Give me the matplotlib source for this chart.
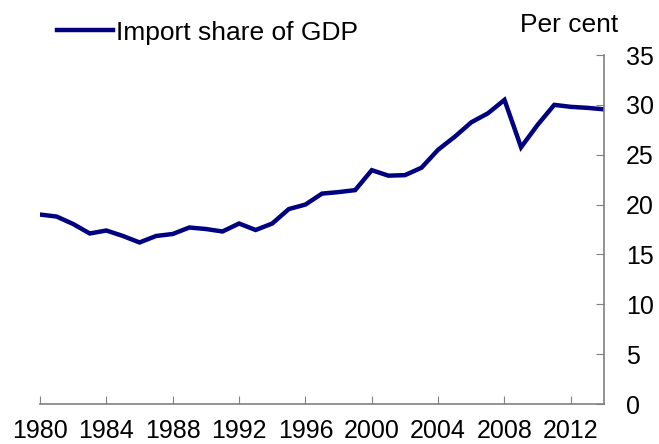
import matplotlib.pyplot as plt
from matplotlib.ticker import MultipleLocator

plt.rcParams['font.family'] = ['Liberation Sans', 'DejaVu Sans']

years = list(range(1980, 2015))
import_share = [19.0, 18.8, 18.05, 17.1, 17.4, 16.85, 16.2, 16.85, 17.05, 17.7,
                17.55, 17.3, 18.1, 17.45, 18.1, 19.55, 20.0, 21.1, 21.25, 21.45,
                23.45, 22.9, 22.95, 23.7, 25.5, 26.8, 28.25, 29.15, 30.5, 25.75,
                28.0, 30.0, 29.8, 29.7, 29.55]
x_labels = [str(y) for y in range(1980, 2013, 4)]

fig = plt.figure(figsize=(6.59, 4.44), dpi=100)
ax = fig.add_axes([40 / 659, 40 / 444, 564 / 659, 349 / 444])

ax.plot(years, import_share, color='#000080', linewidth=3.2,
        label='Import share of GDP', solid_joinstyle='miter')

ax.set_xlim(1980, 2014)
ax.set_ylim(0, 35)
ax.set_xticks(range(1980, 2013, 4))
ax.set_xticklabels(x_labels)
ax.yaxis.set_major_locator(MultipleLocator(5))
ax.yaxis.tick_right()

for s in ['top', 'left']:
    ax.spines[s].set_visible(False)
for s in ['bottom', 'right']:
    ax.spines[s].set_color('#808080')
    ax.spines[s].set_linewidth(1.2)

ax.tick_params(axis='x', direction='in', length=6, color='#808080',
               labelsize=18, pad=11)
ax.tick_params(axis='y', direction='in', length=6, color='#808080',
               labelsize=18, pad=16)

ax.legend(loc='center left', bbox_to_anchor=(0.031, 1.064), frameon=False,
          fontsize=19, handlelength=2.1, handletextpad=0.12,
          borderaxespad=0.0, borderpad=0.0)
fig.text(569 / 659, 1 - 25 / 444, 'Per cent', fontsize=19,
         ha='center', va='center')

fig.savefig('out.png', dpi=100)
